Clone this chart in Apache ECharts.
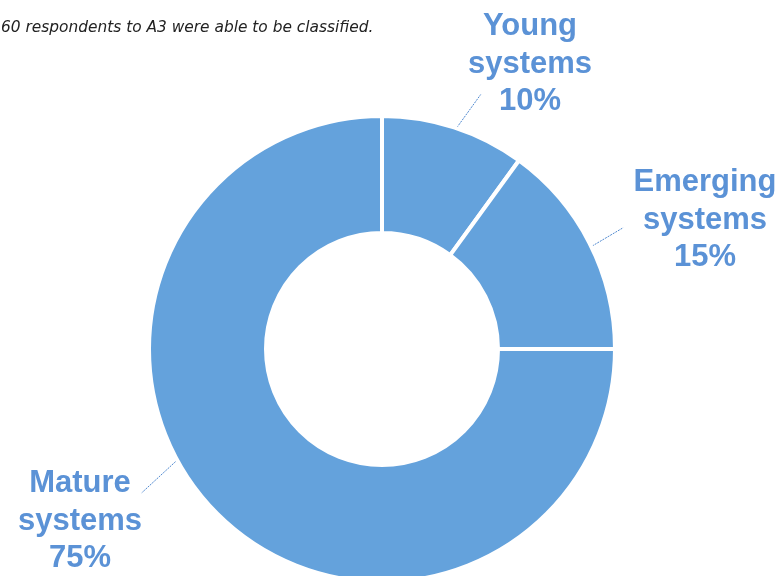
<!DOCTYPE html>
<html>
<head>
<meta charset="utf-8">
<script src="https://cdn.jsdelivr.net/npm/echarts@6/dist/echarts.min.js"></script>
<style>
  html, body { margin: 0; padding: 0; background: #fff; }
  #chart { width: 781px; height: 576px; }
</style>
</head>
<body>
<div id="chart"></div>
<script>
// data
const categories = ['Young systems', 'Emerging systems', 'Mature systems'];
const shares = [10, 15, 75];
const note = '60 respondents to A3 were able to be classified.';

// layout of the callout labels (centre of the text block)
const labelAt = [[530, 64], [705, 220], [80, 521]];
// dotted guide lines, polar [radius, angle in degrees] start and end
const guides = [
  [[234, 71.3], [273, 68.8]],
  [[234, 26.1], [270, 26.7]],
  [[235, 208.6], [280, 210.9]]
];

const cx = 382, cy = 349;
function polar(p) {
  const a = p[1] * Math.PI / 180;
  return [cx + p[0] * Math.cos(a), cy - p[0] * Math.sin(a)];
}

const mychart = echarts.init(document.getElementById('chart'));
mychart.setOption({
  animation: false,
  title: {
    text: note,
    left: -4,
    top: 15,
    textStyle: {
      fontFamily: 'DejaVu Sans, sans-serif',
      fontStyle: 'italic',
      fontWeight: 'normal',
      fontSize: 15.4,
      color: '#222'
    }
  },
  series: [{
    type: 'pie',
    center: [cx, cy],
    radius: [116, 233],
    startAngle: 90,
    clockwise: true,
    itemStyle: {
      color: '#64a2dc',
      borderColor: '#fff',
      borderWidth: 4
    },
    label: {
      show: true,
      position: 'outside',
      overflow: 'none',
      edgeDistance: 0,
      formatter: function (p) {
        return p.name.replace(' ', '\n') + '\n' + p.value + '%';
      },
      fontFamily: 'Liberation Sans, Arial, sans-serif',
      fontWeight: 'bold',
      fontSize: 31,
      lineHeight: 37.5,
      color: '#5b92d6',
      align: 'center'
    },
    labelLine: {
      show: true,
      lineStyle: {
        color: '#4f88cf',
        width: 1,
        type: [2, 1]
      }
    },
    labelLayout: function (params) {
      const i = params.dataIndex;
      const p0 = polar(guides[i][0]);
      const p1 = polar(guides[i][1]);
      return {
        x: labelAt[i][0],
        y: labelAt[i][1],
        align: 'center',
        verticalAlign: 'middle',
        labelLinePoints: [p0, [(p0[0] + p1[0]) / 2, (p0[1] + p1[1]) / 2], p1]
      };
    },
    data: categories.map(function (c, i) {
      return { name: c, value: shares[i] };
    })
  }]
});
</script>
</body>
</html>
